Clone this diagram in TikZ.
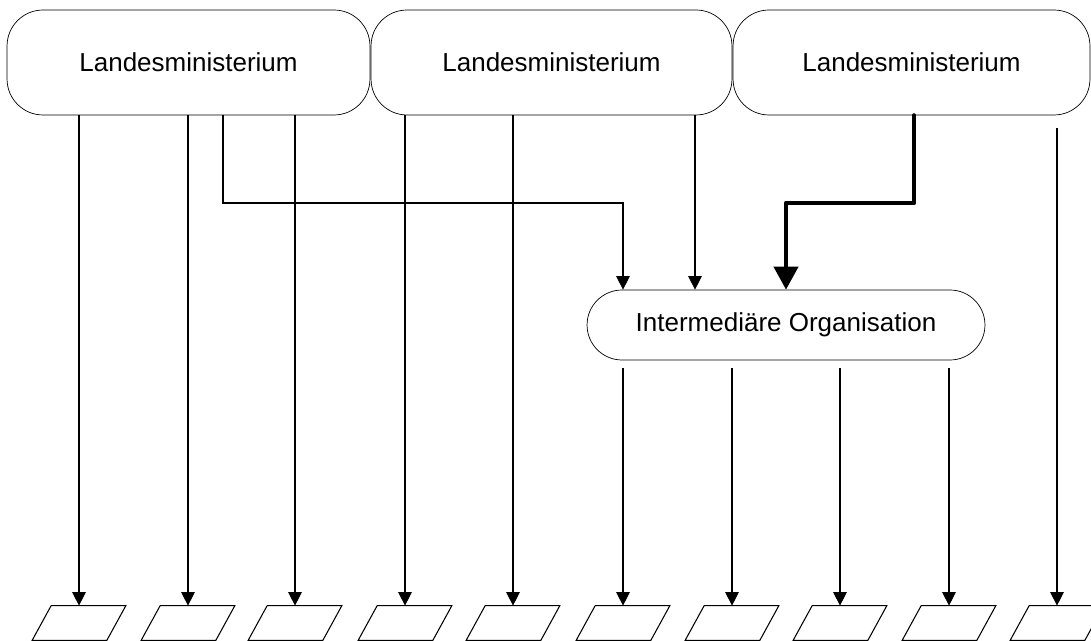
\documentclass[tikz,border=0pt]{standalone}
\usepackage{fontspec}
\setmainfont{Liberation Sans}
\usepackage{tikz}
\usetikzlibrary{positioning,arrows.meta,calc}
\tikzset{ministry/.style={draw,rounded corners=0.72cm,minimum height=2.1cm,inner sep=0pt,font=\fontsize{14.8}{18}\selectfont},
  inter/.style={draw,rounded corners=0.7cm,minimum width=7.96cm,minimum height=1.4cm,inner sep=0pt,font=\fontsize{14.8}{18}\selectfont},
  slot/.style={minimum width=1.48cm,minimum height=0.68cm,inner sep=0pt},
  thin arrow/.style={draw,line width=0.6pt,-{Triangle[length=0.27cm,width=0.27cm]}},
  thick arrow/.style={draw,line width=2.4pt,line join=round,line cap=round,-{Triangle[length=0.46cm,width=0.48cm]}},}
\newcommand{\fl}[2]{\path[thin arrow] (#1) -- (#2);}

\begin{document}
\begin{tikzpicture}[x=0.02cm,y=-0.02cm]
        \useasboundingbox (0,0) rectangle (1091,641);
        \node[ministry,minimum width=7.26cm] (lm1) at (188.5,62.5) {Landesministerium};
        \node[ministry,minimum width=7.22cm] (lm2) at (551.5,62.5) {Landesministerium};
        \node[ministry,minimum width=7.14cm] (lm3) at (911.5,62.5) {Landesministerium};
        \node[inter] (io) at (786,325) {Intermediäre Organisation};

        % slanted boxes at the bottom
        \foreach \x [count=\i] in {79,188,295,405,513,623,732,840,949,1057} {
            \node[slot] (p\i) at (\x,623) {};
            \draw[line width=0.6pt] ($(p\i.south west)+(-9.5,0)$) -- ($(p\i.north west)+(9.5,0)$)
                -- ($(p\i.north east)+(9.5,0)$) -- ($(p\i.south east)+(-9.5,0)$) -- cycle;
        }

        \coordinate (b1) at (223,203);
        \coordinate (c2) at (695,203);
        \coordinate (b3) at (914,203);
        \coordinate (s10) at (1057,128);

        \fl{lm1.south -| p1.north}{p1.north}
        \fl{lm1.south -| p2.north}{p2.north}
        \fl{lm1.south -| p3.north}{p3.north}
        \fl{lm2.south -| p4.north}{p4.north}
        \fl{lm2.south -| p5.north}{p5.north}
        \fl{lm2.south -| c2}{io.north -| c2}
        \path[thin arrow] (lm1.south -| b1) -- (b1) -| (io.north -| p6.north);
        \path[thick arrow] (lm3.south -| b3) -- (b3) -| (io.north);
        \fl{s10}{p10.north}

        \foreach \i in {6,...,9} {
            \fl{$(io.south -| p\i.north)+(0,8)$}{p\i.north}
        }
    \end{tikzpicture}
\end{document}
